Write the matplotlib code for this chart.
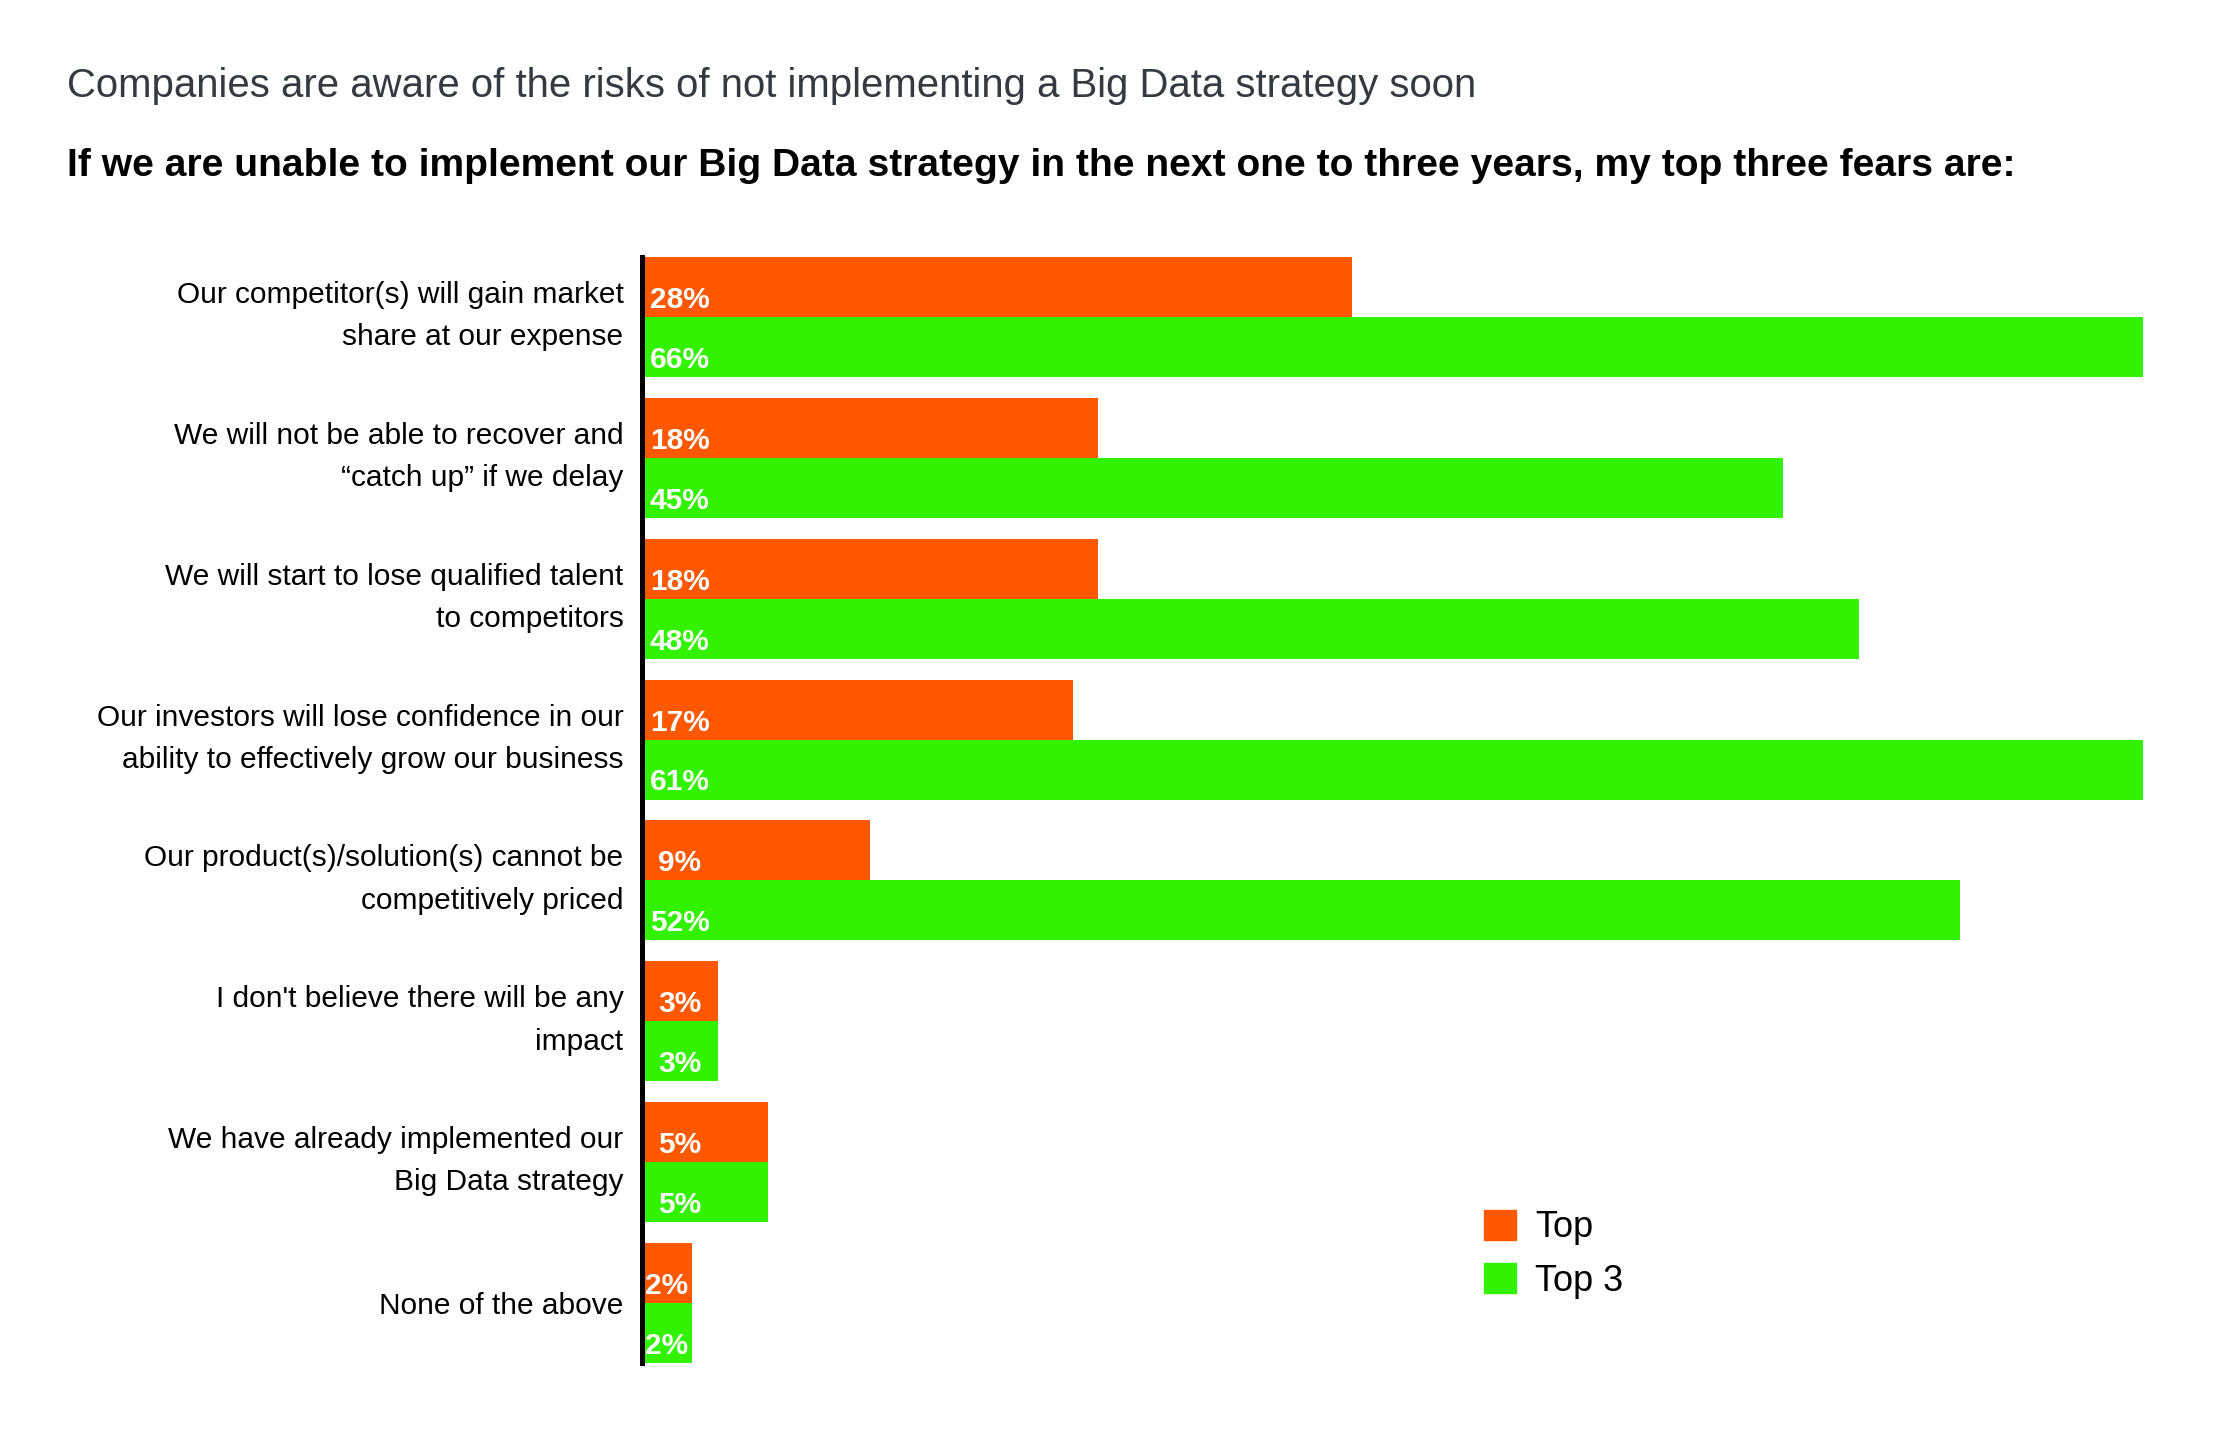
import matplotlib.pyplot as plt
import matplotlib.transforms as mtransforms
from matplotlib.patches import Patch

# data
categories = [
    "Our competitor(s) will gain market\nshare at our expense",
    "We will not be able to recover and\n\u201ccatch up\u201d if we delay",
    "We will start to lose qualified talent\nto competitors",
    "Our investors will lose confidence in our\nability to effectively grow our business",
    "Our product(s)/solution(s) cannot be\ncompetitively priced",
    "I don't believe there will be any\nimpact",
    "We have already implemented our\nBig Data strategy",
    "None of the above",
]
top_vals = [28, 18, 18, 17, 9, 3, 5, 2]
top3_vals = [66, 45, 48, 61, 52, 3, 5, 2]
series_names = ["Top", "Top 3"]

title_1 = "Companies are aware of the risks of not implementing a Big Data strategy soon"
title_2 = "If we are unable to implement our Big Data strategy in the next one to three years, my top three fears are:"

orange = "#FF5800"
green = "#33F200"

plt.rcParams['font.family'] = ['Liberation Sans', 'DejaVu Sans']

W, H = 2225, 1433
fig = plt.figure(figsize=(W / 100, H / 100), dpi=100)

# axes placed in pixel terms
left, right = 641.5, 2143
top, bottom = 257, 1363
ax = fig.add_axes([left / W, 1 - bottom / H, (right - left) / W, (bottom - top) / H])

h = 0.4255  # bar height (data units, pitch = 1)
ypos = list(range(len(categories)))
y_top = [y - h / 2 for y in ypos]
y_top3 = [y + h / 2 for y in ypos]

ax.barh(y_top, top_vals, height=h, color=orange, linewidth=0, label=series_names[0])
ax.barh(y_top3, top3_vals, height=h, color=green, linewidth=0, label=series_names[1])

ax.set_xlim(0, 59.2)
ax.set_ylim(len(categories) - 1 + h, -h)

# value labels
off = 0.064
for y, v in zip(ypos, top_vals):
    ax.text(min(v, 3) / 2, y - off, f"{v}%", ha='center', va='baseline',
            color='white', fontsize=21.5, fontweight='bold')
for y, v in zip(ypos, top3_vals):
    ax.text(min(v, 3) / 2, y + h - off, f"{v}%", ha='center', va='baseline',
            color='white', fontsize=21.5, fontweight='bold')

ax.set_yticks(ypos)
ax.set_yticklabels(categories, fontsize=21.5, linespacing=1.65)
ax.tick_params(axis='y', length=0, pad=13)
# two-line labels sit a little above the group centre
shift = mtransforms.ScaledTranslation(0, 11 / 100, fig.dpi_scale_trans)
for lab in ax.get_yticklabels():
    if "\n" in lab.get_text():
        lab.set_transform(lab.get_transform() + shift)
ax.set_xticks([])
for s in ['top', 'right', 'bottom']:
    ax.spines[s].set_visible(False)
ax.spines['left'].set_linewidth(3.6)
ax.spines['left'].set_color('black')

fig.text(67 / W, 1 - 97 / H, title_1, fontsize=28.9, color='#333A40', va='baseline')
fig.text(67 / W, 1 - 176 / H, title_2, fontsize=28.1, fontweight='bold', color='black', va='baseline')

handles = [Patch(color=orange), Patch(color=green)]
fig.legend(handles, series_names, loc='upper left', bbox_to_anchor=(1484 / W, 1 - 1210 / H),
           frameon=False, fontsize=26, borderpad=0, borderaxespad=0,
           handlelength=0.89, handleheight=0.89, handletextpad=0.53, labelspacing=0.5)

fig.savefig('out.png', dpi=100)
